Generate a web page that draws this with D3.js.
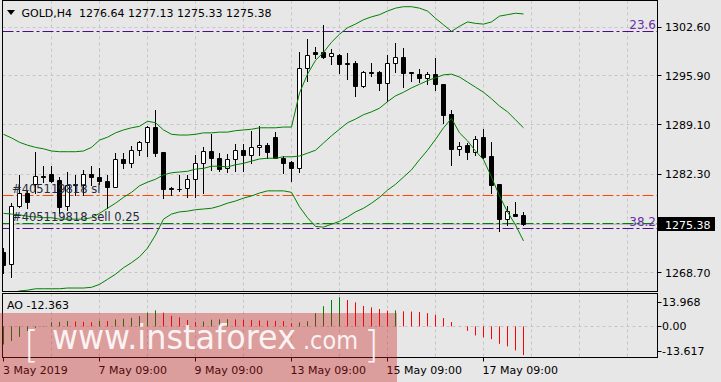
<!DOCTYPE html>
<html><head><meta charset="utf-8">
<script src="https://cdn.jsdelivr.net/npm/d3@7"></script>
<style>
html,body{margin:0;padding:0;background:#e7e7e7;overflow:hidden}
svg{display:block}
text{font-family:"DejaVu Sans",sans-serif}
</style></head><body>
<svg id="c" width="721" height="382"></svg>
<script>
// ---------------- data ----------------
const symbol = "GOLD,H4";
const open  = [1271.6,1269.9,1277.9,1279.7,1280.9,1282.1,1282.3,1281.5,1277.9,1280.8,
               1280.8,1282.3,1281.9,1281.4,1280.6,1284.4,1283.9,1285.7,1286.7,1288.8,
               1285.3,1280.4,1280.2,1280.4,1281.6,1283.8,1285.5,1284.6,1283.1,1284.4,
               1285.7,1284.9,1286.0,1286.3,1287.4,1284.6,1284.0,1283.1,1296.9,1299.1,
               1299.1,1298.6,1298.8,1297.6,1297.6,1294.4,1296.4,1296.4,1294.9,1297.7,
               1298.4,1296.4,1296.1,1295.6,1296.1,1294.7,1290.6,1285.8,1286.3,1285.3,
               1287.4,1284.8,1280.9,1276.1,1276.8,1276.64];
const high  = [1272.1,1278.3,1282.2,1280.1,1285.4,1283.4,1283.4,1281.9,1282.6,1282.2,
               1282.9,1283.4,1283.1,1282.2,1285.2,1285.2,1286.2,1286.9,1288.9,1291.1,
               1285.4,1280.5,1282.2,1282.2,1284.9,1286.0,1287.9,1285.2,1285.1,1286.5,
               1286.5,1288.3,1288.9,1286.6,1288.1,1284.8,1284.1,1299.1,1300.9,1299.9,
               1302.9,1299.6,1298.9,1299.0,1297.9,1296.5,1297.7,1296.5,1298.7,1300.4,
               1299.7,1296.4,1296.8,1296.4,1298.3,1294.8,1291.2,1286.7,1286.6,1287.5,
               1288.5,1286.7,1280.9,1277.9,1278.5,1277.13];
const low   = [1268.7,1268.1,1277.8,1277.6,1279.7,1281.2,1281.2,1276.9,1277.4,1279.4,
               1279.4,1280.8,1281.0,1277.6,1280.5,1283.1,1283.3,1284.9,1284.8,1284.8,
               1279.0,1279.4,1280.0,1279.1,1279.1,1279.7,1282.9,1282.7,1282.6,1282.8,
               1282.8,1283.9,1284.9,1284.5,1284.5,1282.4,1281.4,1282.6,1295.2,1298.3,
               1298.3,1297.5,1296.3,1295.4,1293.1,1294.3,1295.9,1293.9,1292.4,1296.4,
               1294.3,1295.1,1295.0,1294.7,1293.9,1289.4,1283.6,1284.9,1284.4,1284.9,
               1284.5,1279.7,1274.4,1275.3,1276.5,1275.33];
const close = [1269.8,1277.9,1279.7,1278.4,1282.0,1281.9,1281.4,1277.8,1280.8,1280.9,
               1282.3,1281.9,1281.3,1280.6,1284.4,1283.9,1285.7,1286.7,1288.8,1285.2,
               1280.2,1280.2,1280.3,1281.6,1283.8,1285.5,1284.6,1283.0,1284.4,1285.7,
               1284.9,1286.0,1286.3,1285.3,1284.6,1283.9,1283.1,1296.9,1298.8,1298.9,
               1298.4,1299.0,1297.5,1297.5,1294.4,1296.4,1296.2,1294.9,1297.7,1298.4,
               1296.3,1296.2,1295.6,1296.1,1294.7,1290.5,1285.8,1286.2,1285.3,1287.2,
               1284.7,1280.8,1276.1,1277.2,1276.6,1275.38];
const bbUpper = [1287.8,1287.3,1286.7,1286.3,1286.0,1285.8,1285.5,1285.4,1285.4,1285.4,
                 1285.5,1286.0,1287.0,1287.4,1288.0,1288.4,1288.7,1288.9,1289.6,1289.4,
                 1288.4,1287.8,1287.7,1287.7,1287.8,1288.0,1288.0,1288.1,1288.1,1288.3,
                 1288.4,1288.5,1288.7,1288.7,1288.7,1288.8,1288.8,1293.5,1296.1,1298.0,
                 1299.1,1300.5,1301.6,1302.5,1303.0,1303.6,1304.0,1304.3,1304.8,1305.2,
                 1305.4,1305.4,1305.2,1304.8,1303.8,1302.9,1302.0,1302.7,1303.3,1303.1,
                 1303.0,1303.3,1304.1,1304.3,1304.5,1304.4];
const bbMiddle = [1276.9,1276.8,1276.7,1276.5,1276.4,1276.3,1276.3,1276.1,1276.1,1276.1,
                  1276.1,1276.3,1276.9,1277.6,1278.3,1279.1,1279.8,1280.7,1281.2,1281.6,
                  1282.2,1282.5,1282.6,1282.7,1283.0,1283.1,1283.4,1283.4,1283.3,1283.6,
                  1283.8,1284.1,1284.4,1284.5,1284.5,1284.7,1284.7,1284.8,1285.2,1285.6,
                  1286.6,1287.6,1288.5,1289.4,1289.9,1290.5,1290.9,1291.4,1292.3,1293.1,
                  1293.6,1294.2,1294.7,1295.2,1295.6,1296.0,1296.1,1295.7,1295.0,1294.3,
                  1293.6,1292.7,1291.7,1290.9,1289.8,1288.7];
const bbLower = [1265.5,1265.9,1266.2,1266.3,1266.5,1266.5,1266.5,1266.5,1266.6,1266.6,
                 1266.6,1266.7,1267.1,1267.8,1268.5,1269.4,1270.1,1270.9,1272.1,1273.9,
                 1276.1,1276.8,1277.1,1277.2,1277.4,1277.5,1277.6,1277.9,1278.3,1278.6,
                 1279.0,1279.3,1279.7,1280.0,1280.0,1280.0,1279.8,1277.8,1276.3,1275.1,
                 1275.0,1275.4,1275.8,1276.4,1277.1,1277.6,1278.3,1279.1,1280.1,1280.9,
                 1281.9,1282.9,1284.3,1285.6,1287.1,1288.7,1290.0,1288.0,1286.9,1285.5,
                 1284.3,1281.9,1279.3,1277.1,1275.3,1273.1];
const ao = [-7.8,-6.3,-4.5,-2.0,-0.6,0.2,1.8,1.9,2.3,2.1,
            2.0,1.8,2.4,2.3,3.0,3.3,3.7,4.4,5.9,6.9,
            5.9,4.6,3.9,2.8,1.9,2.1,2.9,3.0,3.1,3.0,
            2.8,2.7,2.6,2.5,2.4,2.3,1.4,1.7,2.2,5.7,
            8.7,11.4,12.6,11.4,10.4,8.8,8.2,7.5,6.8,6.9,
            6.5,6.4,6.2,5.7,5.0,3.6,1.9,-0.1,-1.9,-3.9,
            -4.7,-5.5,-7.5,-8.6,-10.3,-12.363];
const priceTicks = [1302.60,1295.90,1289.10,1282.30,1275.50,1268.70];
const priceTickShown = [true,true,true,true,false,true];
const aoTicks = [13.968,0,-13.617];
const timeTickBars = [0,12,24,36,48,60];
const timeTickLabels = ["3 May 2019","7 May 09:00","9 May 09:00","13 May 09:00","15 May 09:00","17 May 09:00"];
const fiboLabels = ["23.6","38.2"];
const fiboPrices = [1302.05,1274.87];
const orderLabels = ["#405119818 sl","#405119818 sell 0.25"];
const orderPrices = [1279.4,1275.5];
const watermark = ["[","www.instaforex",".com","]"];

// ---------------- layout ----------------
const L=2.5, R=657.5, mainTop=0.5, mainBot=291.5, aoTop=293.5, aoBot=357.5;
const nSlots = 82;
const x = d3.scaleLinear().domain([0,1]).range([3.5,11.5]);
const y = d3.scaleLinear().domain([1268.7,1302.6]).range([272.8,27]);
const yA = d3.scaleLinear().domain([-13.617,13.968]).range([358,294]);
const crisp = v => Math.round(v)+0.5;

const svg = d3.select("#c");
svg.append("rect").attr("width",721).attr("height",382).attr("fill","#e7e7e7");

const defs = svg.append("defs");
defs.append("clipPath").attr("id","clipMain").append("rect")
  .attr("x",L+0.5).attr("y",mainTop).attr("width",R-L-1).attr("height",mainBot-mainTop-0.5);
defs.append("clipPath").attr("id","clipAO").append("rect")
  .attr("x",L+0.5).attr("y",aoTop+0.5).attr("width",R-L-1).attr("height",aoBot-aoTop-1);

const gridColor="#c6c6c6";
// ---------- main panel ----------
const gm = svg.append("g").attr("clip-path","url(#clipMain)");
const gridX = d3.range(6,nSlots,6);
gm.selectAll("line.vg").data(gridX).join("line")
  .attr("x1",d=>x(d)).attr("x2",d=>x(d)).attr("y1",mainTop).attr("y2",mainBot)
  .attr("stroke",gridColor).attr("stroke-dasharray","3,3");
gm.selectAll("line.hg").data(priceTicks).join("line")
  .attr("x1",L).attr("x2",R).attr("y1",d=>crisp(y(d)-0.5)).attr("y2",d=>crisp(y(d)-0.5))
  .attr("stroke",gridColor).attr("stroke-dasharray","3,3");

// level lines
const dashDot="11,3,3,3";
gm.selectAll("line.fibo").data(fiboPrices).join("line")
  .attr("x1",L).attr("x2",R).attr("y1",d=>crisp(y(d))).attr("y2",d=>crisp(y(d)))
  .attr("stroke","#500a8c").attr("stroke-dasharray",dashDot);
const orderColors=["#ff4500","#008000"];
gm.selectAll("line.ord").data(orderPrices).join("line")
  .attr("x1",L).attr("x2",R).attr("y1",d=>crisp(y(d))).attr("y2",d=>crisp(y(d)))
  .attr("stroke",(d,i)=>orderColors[i]).attr("stroke-dasharray",dashDot);
// bid line
const last = close.length-1;
gm.append("line").attr("x1",L).attr("x2",R)
  .attr("y1",crisp(y(close[last]))).attr("y2",crisp(y(close[last])))
  .attr("stroke","#bdbdbd");

// candles
const bars = d3.range(open.length).map(i=>({i,o:open[i],h:high[i],l:low[i],c:close[i]}));
gm.selectAll("line.wick").data(bars).join("line")
  .attr("x1",d=>x(d.i)).attr("x2",d=>x(d.i))
  .attr("y1",d=>Math.round(y(d.h))).attr("y2",d=>Math.round(y(d.l))+1)
  .attr("stroke","#000");
gm.selectAll("path.body").data(bars).join("path")
  .attr("d",d=>{
    const t=crisp(y(Math.max(d.o,d.c))), b=crisp(y(Math.min(d.o,d.c)));
    const cx=x(d.i);
    return `M${cx-2},${t}H${cx+2}V${b}H${cx-2}Z`;
  })
  .attr("fill",d=>d.c>=d.o?"#fff":"#000").attr("stroke","#000");

// bands
const bandLine = d3.line().x((d,i)=>x(i)).y(d=>y(d));
[bbUpper,bbMiddle,bbLower].forEach(arr=>{
  gm.append("path").attr("d",bandLine(arr)).attr("fill","none")
    .attr("stroke","#008000").attr("stroke-width",1);
});

// texts in main
gm.selectAll("text.ord").data(orderLabels).join("text")
  .attr("x",12).attr("y",(d,i)=>y(orderPrices[i])-2.5)
  .attr("font-size",11.5).attr("fill","#262b3c").text(d=>d);
gm.selectAll("text.fibo").data(fiboLabels).join("text")
  .attr("x",656).attr("y",(d,i)=>y(fiboPrices[i])-2)
  .attr("text-anchor","end").attr("font-size",12).attr("fill","#6a32a8").text(d=>d);

// header
svg.append("path").attr("d","M7,10L15,10L11,15Z").attr("fill","#000");
svg.append("text").attr("x",21.5).attr("y",17).attr("font-size",11).attr("fill","#000")
  .attr("xml:space","preserve")
  .text(`${symbol}  ${open[last].toFixed(2)} ${high[last].toFixed(2)} ${low[last].toFixed(2)} ${close[last].toFixed(2)}`);

// ---------- AO panel ----------
const ga = svg.append("g").attr("clip-path","url(#clipAO)");
ga.selectAll("line.vg").data(gridX).join("line")
  .attr("x1",d=>x(d)).attr("x2",d=>x(d)).attr("y1",aoTop).attr("y2",aoBot)
  .attr("stroke",gridColor).attr("stroke-dasharray","3,3");
ga.append("line").attr("x1",L).attr("x2",R).attr("y1",crisp(yA(0))).attr("y2",crisp(yA(0)))
  .attr("stroke",gridColor).attr("stroke-dasharray","3,3");
ga.selectAll("line.ao").data(ao).join("line")
  .attr("x1",(d,i)=>x(i)).attr("x2",(d,i)=>x(i))
  .attr("y1",yA(0)).attr("y2",d=>yA(d))
  .attr("stroke",(d,i)=> (i===0 || d>ao[i-1]) ? "#008000" : "#ff0000");
svg.append("text").attr("x",7).attr("y",309).attr("font-size",11).attr("fill","#000")
  .text(`AO ${ao[last].toFixed(3)}`);

// ---------- frames ----------
svg.append("rect").attr("x",L).attr("y",mainTop).attr("width",R-L).attr("height",mainBot-mainTop)
  .attr("fill","none").attr("stroke","#000");
svg.append("rect").attr("x",L).attr("y",aoTop).attr("width",R-L).attr("height",aoBot-aoTop)
  .attr("fill","none").attr("stroke","#000");

// ---------- price axis ----------
const pa = svg.append("g");
priceTicks.forEach((p,i)=>{
  if(!priceTickShown[i]) return;
  pa.append("line").attr("x1",R).attr("x2",R+4).attr("y1",crisp(y(p)-0.5)).attr("y2",crisp(y(p)-0.5)).attr("stroke","#000");
  pa.append("text").attr("x",665).attr("y",y(p)+4).attr("font-size",11).attr("fill","#000").text(p.toFixed(2));
});
// current price box
pa.append("rect").attr("x",658).attr("y",crisp(y(close[last]))-7.5).attr("width",57).attr("height",14).attr("fill","#000");
pa.append("text").attr("x",665).attr("y",crisp(y(close[last]))+4).attr("font-size",11).attr("fill","#fff")
  .text(close[last].toFixed(2));

// AO axis
aoTicks.forEach(v=>{
  const yy = Math.min(Math.max(yA(v), aoTop+8), aoBot-7);
  pa.append("line").attr("x1",R).attr("x2",R+4).attr("y1",crisp(yy)).attr("y2",crisp(yy)).attr("stroke","#000");
  pa.append("text").attr("x",662).attr("y",yy+4).attr("font-size",11).attr("fill","#000")
    .text(v===0?"0.00":v.toFixed(3));
});

// time axis
timeTickBars.forEach((k,i)=>{
  pa.append("line").attr("x1",x(k)).attr("x2",x(k)).attr("y1",aoBot).attr("y2",aoBot+4).attr("stroke","#000");
  pa.append("text").attr("x",Math.max(x(k)-1,3)).attr("y",374).attr("font-size",11).attr("fill","#000").text(timeTickLabels[i]);
});

// ---------- watermark ----------
const wm = svg.append("g");
wm.append("rect").attr("x",0).attr("y",313).attr("width",397).attr("height",69)
  .attr("fill","#c81e1e").attr("opacity",0.37);
const wt = wm.append("g").attr("fill","#fff").attr("opacity",0.88).style("font-family","'Open Sans',sans-serif");
wt.append("text").attr("x",24).attr("y",357).attr("font-size",38).attr("font-weight",300).text(watermark[0]);
wt.append("text").attr("x",52).attr("y",349).attr("font-size",33).attr("textLength",244).attr("lengthAdjust","spacingAndGlyphs").text(watermark[1]);
wt.append("text").attr("x",303).attr("y",349).attr("font-size",24).attr("textLength",55).attr("lengthAdjust","spacingAndGlyphs").text(watermark[2]);
wt.append("text").attr("x",364).attr("y",357).attr("font-size",38).attr("font-weight",300).text(watermark[3]);
</script>
</body></html>
